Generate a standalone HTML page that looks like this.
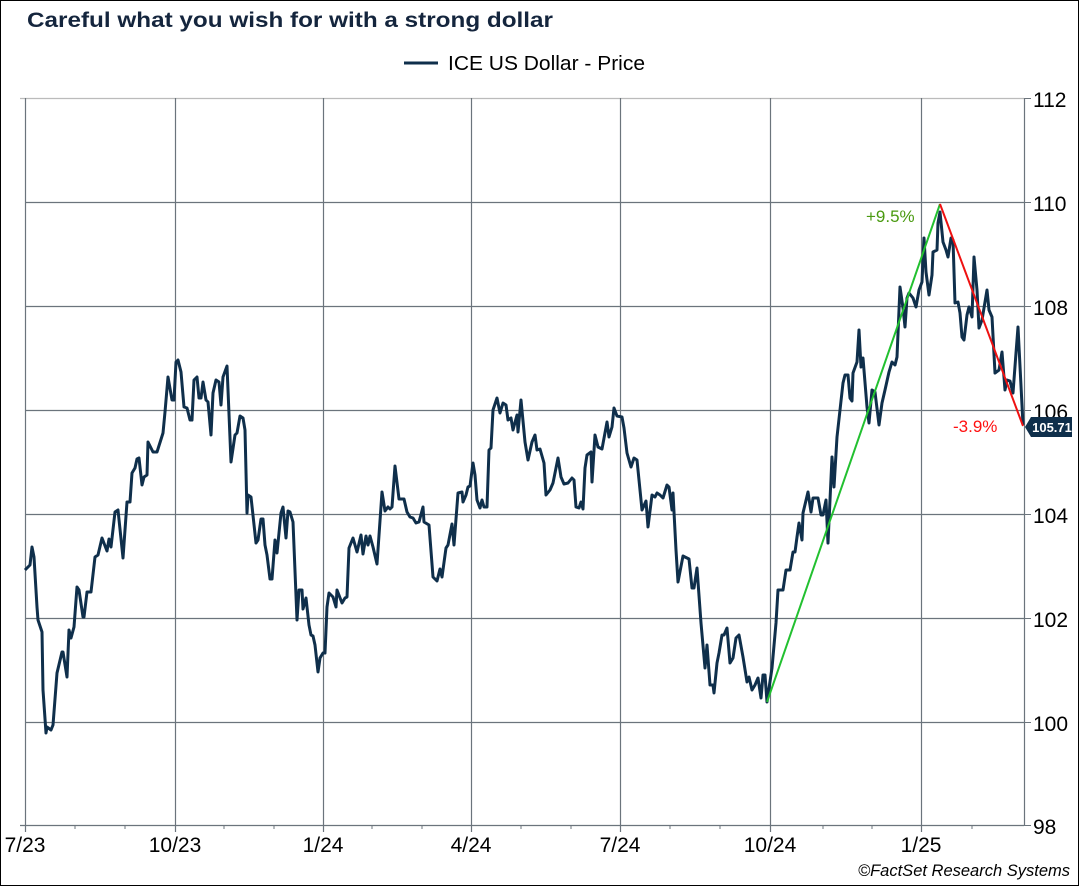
<!DOCTYPE html>
<html><head><meta charset="utf-8"><style>
html,body{margin:0;padding:0;background:#fff;}
svg{display:block;font-family:"Liberation Sans",Arial,sans-serif;}
</style></head><body>
<svg width="1079" height="886" viewBox="0 0 1079 886" xmlns="http://www.w3.org/2000/svg">
<rect x="0.5" y="0.5" width="1078" height="885" fill="#fff" stroke="#000" stroke-width="1"/>
<text x="27" y="27" font-size="21" font-weight="bold" fill="#14253d" textLength="526" lengthAdjust="spacingAndGlyphs">Careful what you wish for with a strong dollar</text>
<line x1="404" y1="63" x2="438" y2="63" stroke="#0f2f4b" stroke-width="3"/>
<text x="448" y="70" font-size="20" fill="#000" textLength="197" lengthAdjust="spacingAndGlyphs">ICE US Dollar - Price</text>
<g stroke="#6b747c" stroke-width="1.2" fill="none">
<line x1="20" y1="98.5" x2="1024" y2="98.5" stroke="#bbb"/>
<line x1="25" y1="202.5" x2="1024" y2="202.5"/>
<line x1="25" y1="306.5" x2="1024" y2="306.5"/>
<line x1="25" y1="410.5" x2="1024" y2="410.5"/>
<line x1="25" y1="514.5" x2="1024" y2="514.5"/>
<line x1="25" y1="618.5" x2="1024" y2="618.5"/>
<line x1="25" y1="722.5" x2="1024" y2="722.5"/>
<line x1="20" y1="825.5" x2="1024" y2="825.5"/>
<line x1="25.5" y1="98" x2="25.5" y2="832"/>
<line x1="175.5" y1="98" x2="175.5" y2="832"/>
<line x1="323.5" y1="98" x2="323.5" y2="832"/>
<line x1="471.5" y1="98" x2="471.5" y2="832"/>
<line x1="620.5" y1="98" x2="620.5" y2="832"/>
<line x1="770.5" y1="98" x2="770.5" y2="832"/>
<line x1="921.5" y1="98" x2="921.5" y2="832"/>
<line x1="1024.5" y1="98" x2="1024.5" y2="825"/>
</g>
<g stroke="#6b747c" stroke-width="1">
<line x1="1024" y1="98.5" x2="1031" y2="98.5"/><line x1="1024" y1="202.5" x2="1031" y2="202.5"/>
<line x1="1024" y1="306.5" x2="1031" y2="306.5"/><line x1="1024" y1="410.5" x2="1031" y2="410.5"/>
<line x1="1024" y1="514.5" x2="1031" y2="514.5"/><line x1="1024" y1="618.5" x2="1031" y2="618.5"/>
<line x1="1024" y1="722.5" x2="1031" y2="722.5"/><line x1="1024" y1="825.5" x2="1031" y2="825.5"/>
<line x1="75" y1="825" x2="75" y2="829"/><line x1="125" y1="825" x2="125" y2="829"/>
<line x1="224" y1="825" x2="224" y2="829"/><line x1="274" y1="825" x2="274" y2="829"/>
<line x1="372" y1="825" x2="372" y2="829"/><line x1="422" y1="825" x2="422" y2="829"/>
<line x1="521" y1="825" x2="521" y2="829"/><line x1="571" y1="825" x2="571" y2="829"/>
<line x1="670" y1="825" x2="670" y2="829"/><line x1="720" y1="825" x2="720" y2="829"/>
<line x1="823" y1="825" x2="823" y2="829"/><line x1="872" y1="825" x2="872" y2="829"/>
<line x1="972" y1="825" x2="972" y2="829"/>
</g>
<g font-size="21" fill="#000">
<text x="1033" y="107">112</text><text x="1033" y="211">110</text><text x="1033" y="315">108</text>
<text x="1033" y="419">106</text><text x="1033" y="523">104</text><text x="1033" y="627">102</text>
<text x="1033" y="731">100</text><text x="1033" y="834">98</text>
</g>
<g font-size="21" fill="#000" text-anchor="middle">
<text x="25" y="852">7/23</text><text x="175" y="852">10/23</text><text x="323" y="852">1/24</text>
<text x="471" y="852">4/24</text><text x="620" y="852">7/24</text><text x="770" y="852">10/24</text>
<text x="921" y="852">1/25</text>
</g>
<text x="1070" y="876" font-size="16.5" font-style="italic" fill="#000" text-anchor="end">©FactSet Research Systems</text>
<polyline fill="none" stroke="#0f2f4b" stroke-width="3" stroke-linejoin="round" points="
25,570 30,565 32,547 34,557 37,607 38,620 42,632 43,690 46,733 47,727 51,730 53,725 57,673 62,652 63,652 67,677 69,630 71,638 74,627 77,587 79,590 83,617 84,617 87,592 91,592 95,557 98,555 102,538 107,551 109,539 111,547 115,512 118,510 123,558 127,502 130,502 132,473 135,468 137,459 139,458 142,485 144,477 147,475 148,442 153,452 157,452 163,433 165,412 168,377 172,400 174,400 176,362 178,360 181,372 184,407 187,408 190,420 192,420 194,380 197,377 199,398 201,398 203,382 206,400 208,402 211,435 213,393 216,380 219,382 221,405 223,377 227,366 231,462 235,435 237,433 240,416 243,418 245,430 247,513 248,495 251,497 256,543 258,540 261,519 263,519 265,545 267,555 270,579 272,579 275,540 277,553 281,513 283,507 286,538 288,511 290,512 293,522 297,620 299,590 302,590 303,609 306,598 309,625 311,635 313,636 315,645 318,672 320,658 323,653 325,653 327,607 329,593 333,597 336,607 337,590 342,603 345,598 347,597 349,548 353,538 357,552 361,535 363,554 366,536 368,545 370,536 373,547 377,564 382,492 385,511 388,507 390,509 392,507 395,466 399,499 404,499 407,512 410,517 413,518 416,523 419,522 423,507 424,522 429,525 433,577 437,581 440,569 442,577 446,548 448,545 452,524 454,545 458,493 462,492 463,502 466,495 468,487 470,486 473,463 475,475 477,500 480,508 482,500 484,507 487,507 489,450 491,448 493,410 497,398 500,413 503,403 506,405 508,420 511,418 513,430 517,415 518,432 521,400 525,442 528,460 532,442 535,435 537,450 540,449 544,463 546,495 550,490 553,483 558,458 561,477 564,484 568,483 572,478 574,480 576,507 579,508 581,502 583,509 585,468 587,455 591,452 592,482 595,435 598,447 602,449 607,422 609,437 612,427 614,408 617,416 622,417 624,428 627,453 631,467 634,458 637,460 642,510 646,501 648,527 652,495 655,497 657,493 660,495 663,498 667,485 669,487 672,510 673,493 676,550 678,582 683,556 689,559 692,588 694,588 697,568 701,623 705,668 707,645 710,685 713,685 714,693 717,663 719,653 722,635 724,635 727,628 730,663 733,658 736,638 739,635 743,657 747,682 749,677 752,690 755,685 758,678 761,698 763,675 765,675 767,702 772,668 776,623 778,590 783,590 786,570 790,570 793,552 795,552 797,537 799,523 802,540 803,513 808,492 811,512 813,498 818,498 821,515 823,515 826,500 828,543 832,457 834,487 837,437 840,410 843,383 845,375 848,375 850,398 852,401 853,373 857,362 859,330 861,367 863,358 867,407 869,423 872,390 875,392 879,425 882,403 885,390 889,372 892,362 895,365 897,357 900,287 903,308 905,327 907,298 909,293 913,298 916,307 919,290 922,282 924,238 926,272 929,295 932,275 933,252 937,250 938,223 940,212 943,242 946,250 948,257 951,238 953,240 955,303 958,302 960,313 962,337 964,340 967,315 969,307 972,317 974,257 977,290 979,328 982,320 984,308 987,290 989,310 992,317 995,373 999,370 1002,352 1005,390 1007,380 1010,381 1013,393 1016,353 1018,327 1023,425"/>
<line x1="767" y1="702" x2="940" y2="204" stroke="#22c030" stroke-width="2"/>
<line x1="940" y1="204" x2="1023" y2="426" stroke="#ee1111" stroke-width="2"/>
<text x="866" y="222" font-size="17" fill="#4a9a10">+9.5%</text>
<text x="953" y="432" font-size="17" fill="#ff1010">-3.9%</text>
<path d="M1025,427 L1031,417 L1072,417 L1072,437 L1031,437 Z" fill="#0f2f4b"/>
<text x="1052" y="432" font-size="13" font-weight="bold" fill="#fff" text-anchor="middle">105.71</text>
</svg>
</body></html>
